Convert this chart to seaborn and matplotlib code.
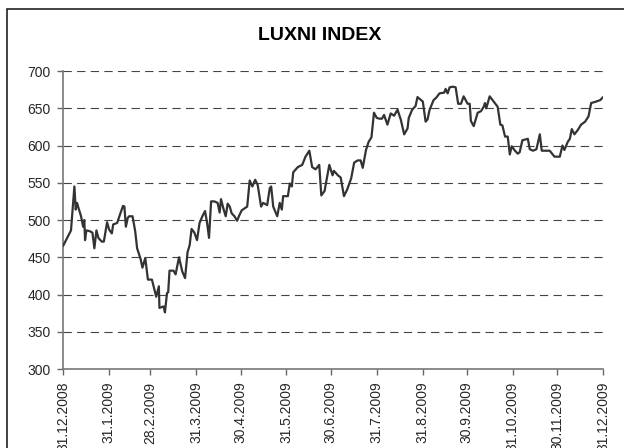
import numpy as np
import pandas as pd
import matplotlib
matplotlib.use("Agg")
import matplotlib.pyplot as plt
import matplotlib.dates as mdates
from matplotlib.patches import Rectangle
import seaborn as sns

# days after 31.12.2008 and index level
days = [0, 5.4, 7.7, 8.6, 9.5, 10.8, 12.2, 13.6, 14.4, 14.9, 15.8, 18.1, 19.9, 21.2,
        22.6, 23.9, 26.2, 27.6, 29.8, 31.2, 33.0, 33.9, 36.6, 38.8, 40.6, 41.5,
        42.5, 43.8, 44.7, 47.0, 48.8, 50.1, 52.4, 53.7, 55.6, 57.4, 60.1, 61.9,
        63.0, 64.8, 65.2, 68.0, 68.9, 70.3, 71.1, 72.0, 74.7, 76.1, 78.4, 80.6,
        82.5, 84.2, 85.6, 86.9, 88.8, 90.6, 92.3, 94.2, 96.0, 97.4, 98.7, 100.1,
        102.3, 104.5, 105.9, 106.8, 108.6, 110.0, 111.3, 112.7, 114.0, 115.9,
        117.7, 119.1, 120.8, 124.5, 126.2, 128.0, 129.9, 131.6, 133.9, 135.3,
        138.0, 139.8, 140.7, 142.1, 144.8, 146.5, 147.9, 148.8, 152.0, 153.3,
        154.7, 155.6, 158.7, 161.7, 163.9, 166.5, 168.4, 170.7, 173.2, 174.6,
        176.8, 180.0, 182.2, 183.1, 185.8, 187.7, 189.9, 192.1, 194.8, 196.8,
        199.2, 201.2, 202.6, 204.8, 206.6, 208.5, 210.2, 212.1, 213.9, 215.6,
        217.0, 219.3, 221.5, 223.8, 226.1, 228.3, 230.6, 232.9, 233.7, 236.0,
        238.3, 239.6, 243.2, 245.1, 246.4, 247.8, 250.5, 252.2, 254.5, 257.7,
        258.6, 260.0, 261.3, 263.5, 265.4, 267.1, 269.0, 270.8, 273.5, 274.9,
        275.7, 277.6, 280.3, 282.5, 284.4, 285.2, 286.1, 288.4, 291.1, 293.8,
        295.6, 297.0, 298.8, 300.6, 302.0, 303.3, 305.1, 307.4, 308.7, 310.5,
        314.2, 315.5, 317.7, 320.0, 322.3, 323.6, 329.0, 332.2, 335.8, 337.6,
        338.9, 341.2, 342.6, 343.9, 345.7, 348.0, 350.2, 352.9, 355.2, 357.0,
        360.4, 363.2, 365.0]
index_level = [465, 486, 545, 514, 523, 514, 505, 491, 500, 473, 486, 485, 483, 462,
               486, 476, 471, 471, 497, 487, 482, 494, 496, 509, 519, 518,
               491, 503, 505, 505, 485, 462, 448, 436, 449, 420, 420, 406,
               397, 411, 382, 384, 376, 402, 403, 432, 432, 427, 450, 431,
               422, 457, 466, 488, 483, 473, 496, 505, 512, 496, 476, 525,
               525, 523, 510, 528, 514, 505, 522, 518, 509, 505,
               499, 506, 513, 518, 553, 545, 554, 547, 518, 523,
               520, 543, 545, 518, 505, 523, 514, 532, 532, 549,
               545, 564, 571, 574, 585, 593, 571, 568, 574, 533,
               539, 574, 560, 566, 560, 557, 532, 541, 556, 577,
               580, 580, 570, 594, 605, 611, 644, 637, 636, 636,
               641, 628, 643, 640, 648, 635, 615, 623, 637, 648,
               653, 665, 659, 632, 635, 648, 661, 664, 670, 671,
               676, 670, 678, 679, 678, 656, 656, 666, 656, 656,
               633, 626, 644, 646, 652, 657, 650, 666, 659, 652,
               628, 627, 612, 612, 588, 599, 594, 589, 591, 607,
               609, 595, 593, 595, 615, 593, 593, 585, 585, 600,
               594, 605, 609, 622, 615, 621, 628, 632, 639, 657,
               659, 661, 665]

tick_labels = ["31.12.2008", "31.1.2009", "28.2.2009", "31.3.2009", "30.4.2009",
               "31.5.2009", "30.6.2009", "31.7.2009", "31.8.2009", "30.9.2009",
               "31.10.2009", "30.11.2009", "31.12.2009"]
y_ticks = [300, 350, 400, 450, 500, 550, 600, 650, 700]

start = pd.Timestamp("2008-12-31")
df = pd.DataFrame({
    "date": start + pd.to_timedelta(days, unit="D"),
    "value": index_level,
})
tick_dates = pd.to_datetime(tick_labels, format="%d.%m.%Y")

sns.set_style("white")
plt.rcParams["font.family"] = ["Liberation Sans", "DejaVu Sans"]
plt.rcParams["lines.scale_dashes"] = False

fig = plt.figure(figsize=(6.24, 4.48), dpi=100)
ax = fig.add_axes([63 / 624, 1 - 369 / 448, 540 / 624, 298 / 448])

# outer frame of the chart area (runs off the right and bottom edge)
fig.patches.append(Rectangle((6.5 / 624, -0.1), 1.2, 1 - 9.5 / 448 + 0.1,
                             transform=fig.transFigure, fill=False,
                             edgecolor="#222222", linewidth=1.2))

for y in y_ticks[1:]:
    ax.axhline(y, color="#444444", linewidth=0.8, linestyle=(0, (6, 3.8)), zorder=1)

sns.lineplot(data=df, x="date", y="value", ax=ax, color="#333333",
             linewidth=1.6, zorder=3)

ax.set_xlim(tick_dates[0], tick_dates[-1])
ax.set_ylim(300, 700)
ax.set_yticks(y_ticks)
ax.set_xticks(tick_dates)
ax.set_xticklabels(tick_labels, rotation=90, fontsize=10)
ax.tick_params(axis="y", labelsize=10, length=4, width=1, color="#666666",
               pad=5, direction="out", left=True)
ax.tick_params(axis="x", length=4, width=1, color="#666666", pad=5,
               direction="out", bottom=True)
for lab in ax.get_xticklabels():
    lab.set_verticalalignment("top")
ax.set_xlabel("")
ax.set_ylabel("")

for side in ["top", "right"]:
    ax.spines[side].set_visible(False)
for side in ["left", "bottom"]:
    ax.spines[side].set_color("#777777")
    ax.spines[side].set_linewidth(1.2)

fig.text(319.5 / 624, 1 - 35 / 448, "LUXNI INDEX", ha="center", va="center",
         fontsize=14, fontweight="bold", color="black")

fig.savefig("out.png", dpi=100)
